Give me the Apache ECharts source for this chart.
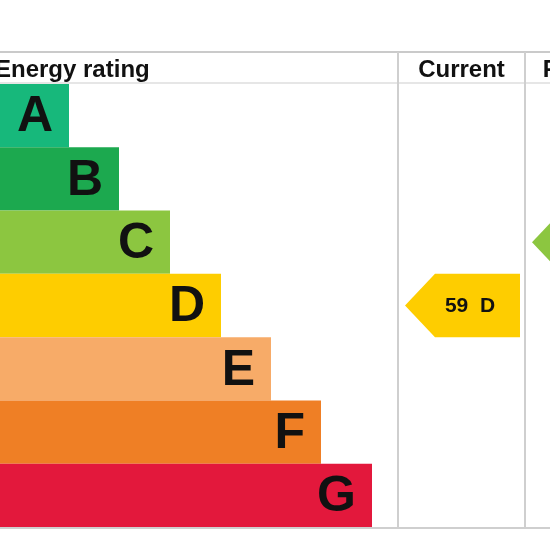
<!DOCTYPE html>
<html>
<head>
<meta charset="utf-8">
<script src="https://cdn.jsdelivr.net/npm/echarts@6/dist/echarts.min.js"></script>
<style>html,body{margin:0;padding:0;background:#fff}#c{width:550px;height:550px}</style>
</head>
<body>
<div id="c"></div>
<script>
// Data
const bands = ['A', 'B', 'C', 'D', 'E', 'F', 'G'];
const barLengths = [69, 119, 170, 221, 271, 321, 372];
const bandColors = ['#17b87b', '#1ca94f', '#8cc640', '#fecd00', '#f7ab68', '#ef7f25', '#e3183c'];
const columnTitles = ['Current', 'Potential'];
const columnEdges = [398, 525, 662];
const ratingScores = [59, 78];
const ratingBands = ['D', 'C'];

const chart = echarts.init(document.getElementById('c'));
const F = 'Liberation Sans, Arial, sans-serif';

const arrowData = ratingScores.map((s, i) => [columnEdges[i], columnEdges[i + 1], bands.indexOf(ratingBands[i]), s, ratingBands[i]]);

const lineColor = '#cfcfcf';
const graphics = [
  { type: 'line', shape: { x1: 0, y1: 52, x2: 550, y2: 52 }, style: { stroke: '#b8b8b8', lineWidth: 1.5 } },
  { type: 'line', shape: { x1: 0, y1: 83, x2: 550, y2: 83 }, style: { stroke: '#dedede', lineWidth: 1.5 } },
  { type: 'line', shape: { x1: 0, y1: 528, x2: 550, y2: 528 }, style: { stroke: lineColor, lineWidth: 2 } },
  { type: 'text', x: -5, y: 70, style: { text: 'Energy rating', font: 'bold 24px ' + F, fill: '#111', textVerticalAlign: 'middle' } }
];
columnEdges.forEach(x => {
  graphics.push({ type: 'line', shape: { x1: x, y1: 52, x2: x, y2: 528 }, style: { stroke: lineColor, lineWidth: 2 } });
});
columnTitles.forEach((t, i) => {
  graphics.push({ type: 'text', x: (columnEdges[i] + columnEdges[i + 1]) / 2, y: 70,
    style: { text: t, font: 'bold 24px ' + F, fill: '#111', textAlign: 'center', textVerticalAlign: 'middle' } });
});

chart.setOption({
  animation: false,
  grid: { left: 0, right: 0, top: 84, bottom: 23 },
  xAxis: { type: 'value', min: 0, max: 550, show: false },
  yAxis: { type: 'category', data: bands, inverse: true, show: false },
  graphic: graphics,
  series: [
    {
      type: 'bar',
      barWidth: '100%',
      data: barLengths.map((v, i) => ({ value: v, itemStyle: { color: bandColors[i] } })),
      label: {
        show: true, position: 'insideRight', distance: 16, offset: [0, 2],
        formatter: p => bands[p.dataIndex],
        color: '#111', fontFamily: F, fontWeight: 'bold', fontSize: 50
      }
    },
    {
      type: 'custom',
      data: arrowData,
      renderItem: (params, api) => {
        const band = api.value(2);
        const c = api.coord([api.value(0), band]);
        const h = api.size([0, 1])[1];
        const x0 = c[0] + 7;
        const x1 = api.coord([api.value(1), band])[0] - 5;
        const yc = c[1];
        const top = yc - h / 2, bot = yc + h / 2;
        const tip = 30;
        const color = bandColors[band];
        return {
          type: 'group',
          children: [
            { type: 'polygon', shape: { points: [[x0, yc], [x0 + tip, top], [x1, top], [x1, bot], [x0 + tip, bot]] }, style: { fill: color } },
            { type: 'text', x: (x0 + tip / 2 + x1) / 2, y: yc + 1,
              style: { text: api.value(3) + '  ' + api.value(4), font: 'bold 21px ' + F, fill: '#111', textAlign: 'center', textVerticalAlign: 'middle' } }
          ]
        };
      }
    }
  ]
});
</script>
</body>
</html>
